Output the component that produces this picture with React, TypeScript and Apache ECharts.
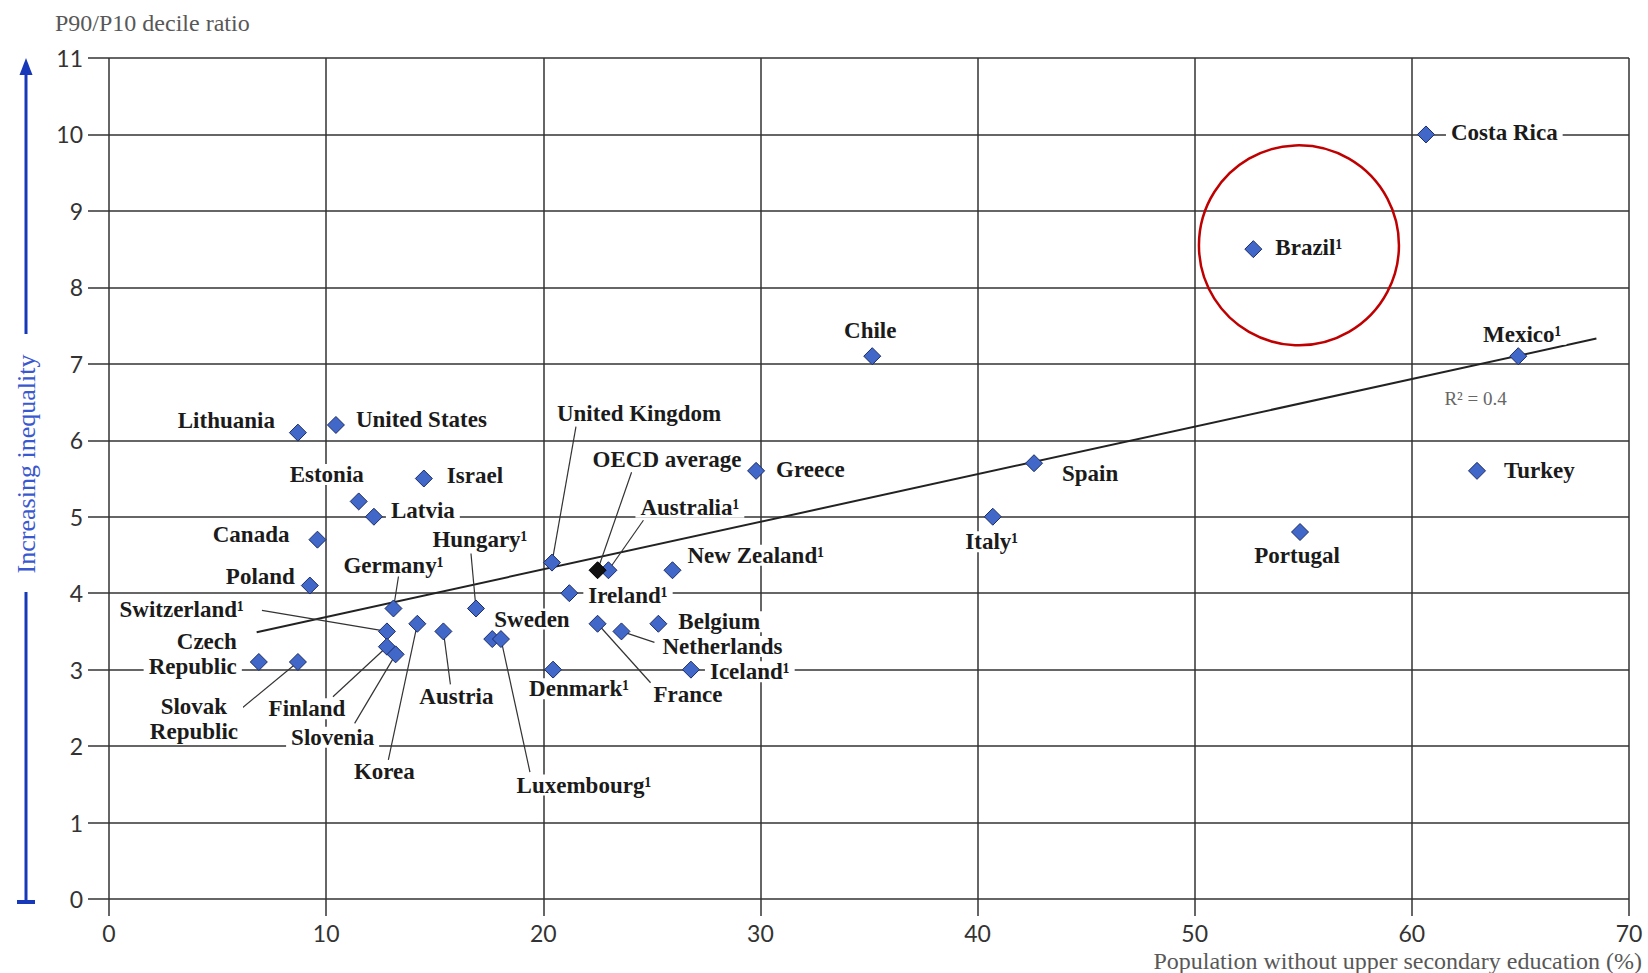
import React, { useEffect, useRef } from "react";
import * as echarts from "echarts";

// ---------- DATA ----------
const countries = [
  "Lithuania", "United States", "Estonia", "Latvia", "Israel", "Canada", "Poland",
  "Germany¹", "Hungary¹", "Switzerland¹", "Czech Republic", "Slovak Republic",
  "Finland", "Slovenia", "Korea", "Austria", "Sweden", "Luxembourg¹",
  "United Kingdom", "Australia¹", "New Zealand¹", "Ireland¹", "Belgium",
  "Netherlands", "France", "Denmark¹", "Iceland¹", "Greece", "Chile", "Italy¹",
  "Spain", "Brazil¹", "Portugal", "Costa Rica", "Mexico¹", "Turkey",
];
// Population without upper secondary education (%)
const withoutUpperSecondary = [
  8.7, 10.45, 11.5, 12.2, 14.5, 9.6, 9.25,
  13.1, 16.9, 12.8, 6.9, 8.7,
  12.8, 13.2, 14.2, 15.4, 17.65, 18.05,
  20.4, 23.0, 25.95, 21.2, 25.3,
  23.6, 22.5, 20.45, 26.8, 29.8, 35.15, 40.7,
  42.6, 52.7, 54.85, 60.65, 64.9, 63.0,
];
// P90/P10 decile ratio
const decileRatio = [
  6.1, 6.2, 5.2, 5.0, 5.5, 4.7, 4.1,
  3.8, 3.8, 3.5, 3.1, 3.1,
  3.3, 3.2, 3.6, 3.5, 3.4, 3.4,
  4.4, 4.3, 4.3, 4.0, 3.6,
  3.5, 3.6, 3.0, 3.0, 5.6, 7.1, 5.0,
  5.7, 8.5, 4.8, 10.0, 7.1, 5.6,
];
const oecdName = "OECD average";
const oecdX = 22.5;
const oecdY = 4.3;

// Linear trend line, R² = 0.4
const trendX = [6.8, 68.5];
const trendY = [3.49, 7.33];
const rSquaredText = "R² = 0.4";

const xTicks = [0, 10, 20, 30, 40, 50, 60, 70];
const yTicks = [0, 1, 2, 3, 4, 5, 6, 7, 8, 9, 10, 11];

// Highlight ring around Brazil (data-space centre)
const highlightCentre = [54.8, 8.55];

// ---------- LABEL PLACEMENT (pixels relative to the marker) ----------
type Lay = { a: "left" | "right" | "center"; dx: number; dy: number; leader?: [number, number]; lh?: number };
const labelLayout: Record<string, Lay> = {
  "Lithuania": { a: "right", dx: -18, dy: -12 },
  "United States": { a: "left", dx: 15, dy: -5 },
  "Estonia": { a: "center", dx: -32, dy: -27 },
  "Latvia": { a: "left", dx: 12, dy: -6 },
  "Israel": { a: "left", dx: 18, dy: -3 },
  "Canada": { a: "right", dx: -23, dy: -5 },
  "Poland": { a: "right", dx: -10, dy: -9 },
  "Germany¹": { a: "center", dx: 0, dy: -43, leader: [5, -32] },
  "Hungary¹": { a: "center", dx: 4, dy: -69, leader: [-5, -55] },
  "Switzerland¹": { a: "right", dx: -138, dy: -22, leader: [-125, -21] },
  "Czech Republic": { a: "right", dx: -17, dy: -8, lh: 25 },
  "Slovak Republic": { a: "center", dx: -104, dy: 57, leader: [-63, 52], lh: 25 },
  "Finland": { a: "center", dx: -80, dy: 62, leader: [-54, 50] },
  "Slovenia": { a: "center", dx: -63, dy: 83, leader: [-41, 69] },
  "Korea": { a: "center", dx: -33, dy: 148, leader: [-29, 136] },
  "Austria": { a: "center", dx: 13, dy: 65, leader: [7, 53] },
  "Sweden": { a: "left", dx: -3, dy: -20 },
  "Luxembourg¹": { a: "center", dx: 83, dy: 146, leader: [29, 133] },
  "United Kingdom": { a: "left", dx: 0, dy: -149, leader: [24, -136] },
  "Australia¹": { a: "left", dx: 27, dy: -63, leader: [35, -50] },
  "New Zealand¹": { a: "left", dx: 10, dy: -15 },
  "Ireland¹": { a: "left", dx: 14, dy: 2 },
  "Belgium": { a: "left", dx: 15, dy: -2 },
  "Netherlands": { a: "left", dx: 36, dy: 15, leader: [33, 11] },
  "France": { a: "left", dx: 51, dy: 71, leader: [53, 59] },
  "Denmark¹": { a: "left", dx: -29, dy: 19 },
  "Iceland¹": { a: "left", dx: 14, dy: 2 },
  "Greece": { a: "left", dx: 15, dy: -1 },
  "Chile": { a: "center", dx: -2, dy: -26 },
  "Italy¹": { a: "center", dx: -1, dy: 25 },
  "Spain": { a: "left", dx: 23, dy: 10 },
  "Brazil¹": { a: "left", dx: 17, dy: -2 },
  "Portugal": { a: "center", dx: -3, dy: 23 },
  "Costa Rica": { a: "left", dx: 20, dy: -2 },
  "Mexico¹": { a: "center", dx: 4, dy: -22 },
  "Turkey": { a: "left", dx: 22, dy: 0 },
};
const oecdLayout: Lay = { a: "left", dx: -10, dy: -111, leader: [34, -98] };

// ---------- STYLES ----------
const SERIF = '"Liberation Serif", "DejaVu Serif", serif';
const SANS = 'Lato, "Open Sans", sans-serif';
const GRID = "#333333";
const MARKER = "#4167c9";
const MARKER_BORDER = "#1c2c66";
const ARROW_BLUE = "#1738b8";
const ARROW_TEXT = "#3a58cf";

export default function App() {
  const ref = useRef<HTMLDivElement>(null);

  useEffect(() => {
    const el = ref.current;
    if (!el) return;
    const chart = echarts.init(el, null, { renderer: "svg" });

    const labelFor = (l: Lay) => {
      const o: any = { align: l.a, offset: [l.dx, l.dy] };
      if (l.lh) o.lineHeight = l.lh;
      return o;
    };

    const data = countries.map((name, i) => ({
      name,
      value: [withoutUpperSecondary[i], decileRatio[i]],
      label: labelFor(labelLayout[name]),
    }));

    const baseLabel = {
      show: true,
      position: "inside",
      verticalAlign: "middle",
      formatter: (p: any) => String(p.name).replace(" Republic", "\nRepublic"),
      fontFamily: SERIF,
      fontWeight: "bold",
      fontSize: 23,
      lineHeight: 21,
      color: "#1b1b1b",
      backgroundColor: "#ffffff",
      padding: [0, 5],
    };

    const option: any = {
      animation: false,
      backgroundColor: "#ffffff",
      grid: { left: 109, right: 19, top: 58, bottom: 74, containLabel: false },
      xAxis: {
        type: "value",
        min: xTicks[0],
        max: xTicks[xTicks.length - 1],
        interval: xTicks[1] - xTicks[0],
        axisLine: { show: false },
        axisTick: { show: true, length: 17, lineStyle: { color: GRID, width: 1.5 } },
        axisLabel: { fontFamily: SANS, fontSize: 23, color: "#333", margin: 22 },
        splitLine: { show: true, lineStyle: { color: GRID, width: 1.5 } },
      },
      yAxis: {
        type: "value",
        min: yTicks[0],
        max: yTicks[yTicks.length - 1],
        interval: yTicks[1] - yTicks[0],
        axisLine: { show: false },
        axisTick: { show: true, length: 21, lineStyle: { color: GRID, width: 1.5 } },
        axisLabel: { fontFamily: SANS, fontSize: 23, color: "#333", margin: 26 },
        splitLine: { show: true, lineStyle: { color: GRID, width: 1.5 } },
      },
      series: [
        {
          type: "line",
          z: 2,
          data: trendX.map((x, i) => [x, trendY[i]]),
          symbol: "none",
          lineStyle: { color: "#222", width: 2 },
          silent: true,
        },
        {
          type: "scatter",
          z: 4,
          symbol: "diamond",
          symbolSize: 17,
          itemStyle: { color: MARKER, borderColor: MARKER_BORDER, borderWidth: 1, opacity: 1 },
          label: baseLabel,
          data,
        },
        {
          type: "scatter",
          z: 4,
          symbol: "diamond",
          symbolSize: 17,
          itemStyle: { color: "#111", borderColor: "#000", borderWidth: 1, opacity: 1 },
          label: { ...baseLabel, ...labelFor(oecdLayout) },
          data: [{ name: oecdName, value: [oecdX, oecdY] }],
        },
      ],
    };
    chart.setOption(option);

    const toPx = (x: number, y: number) =>
      chart.convertToPixel({ gridIndex: 0 }, [x, y]) as unknown as number[];

    const graphics: any[] = [];
    const leader = (x: number, y: number, l: Lay) => {
      if (!l.leader) return;
      const [px, py] = toPx(x, y);
      graphics.push({
        type: "line",
        z: 3,
        silent: true,
        shape: { x1: px, y1: py, x2: px + l.leader[0], y2: py + l.leader[1] },
        style: { stroke: "#333", lineWidth: 1.2 },
      });
    };
    countries.forEach((name, i) => leader(withoutUpperSecondary[i], decileRatio[i], labelLayout[name]));
    leader(oecdX, oecdY, oecdLayout);

    // Increasing-inequality arrow at the left
    const [, yTop] = toPx(0, yTicks[yTicks.length - 1]);
    const [, yBot] = toPx(0, yTicks[0]);
    const ax = 26;
    graphics.push(
      {
        type: "polygon",
        silent: true,
        shape: { points: [[ax, yTop], [ax - 6.5, yTop + 17], [ax + 6.5, yTop + 17]] },
        style: { fill: ARROW_BLUE },
      },
      {
        type: "line",
        silent: true,
        shape: { x1: ax, y1: yTop + 14, x2: ax, y2: 334 },
        style: { stroke: ARROW_BLUE, lineWidth: 3 },
      },
      {
        type: "line",
        silent: true,
        shape: { x1: ax, y1: 592, x2: ax, y2: yBot + 2 },
        style: { stroke: ARROW_BLUE, lineWidth: 3 },
      },
      {
        type: "rect",
        silent: true,
        shape: { x: ax - 9, y: yBot + 1, width: 18, height: 4 },
        style: { fill: ARROW_BLUE },
      },
      {
        type: "text",
        silent: true,
        x: ax,
        y: 464,
        rotation: Math.PI / 2,
        style: {
          text: "Increasing inequality",
          fontFamily: SERIF,
          fontSize: 26,
          fill: ARROW_TEXT,
          align: "center",
          verticalAlign: "middle",
        },
      },
      {
        type: "text",
        silent: true,
        x: 55,
        y: 23,
        style: {
          text: "P90/P10 decile ratio",
          fontFamily: SERIF,
          fontSize: 24,
          fill: "#585858",
          align: "left",
          verticalAlign: "middle",
        },
      },
      {
        type: "text",
        silent: true,
        x: 1642,
        y: 961,
        style: {
          text: "Population without upper secondary education (%)",
          fontFamily: SERIF,
          fontSize: 24,
          fill: "#585858",
          align: "right",
          verticalAlign: "middle",
        },
      }
    );

    // R² annotation near the trend line's right end
    const [rx, ry] = toPx(61.5, 6.55);
    graphics.push({
      type: "text",
      silent: true,
      x: rx,
      y: ry,
      style: { text: rSquaredText, fontFamily: SERIF, fontSize: 19, fill: "#666", align: "left", verticalAlign: "middle" },
    });

    // Red highlight ring around Brazil
    const [cx, cy] = toPx(highlightCentre[0], highlightCentre[1]);
    graphics.push({
      type: "circle",
      silent: true,
      z: 10,
      shape: { cx, cy, r: 100 },
      style: { fill: "transparent", stroke: "#c00000", lineWidth: 2.5 },
    });

    chart.setOption({ graphic: graphics });

    return () => chart.dispose();
  }, []);

  return (
    <div
      ref={ref}
      style={{ position: "absolute", left: 0, top: 0, width: 1648, height: 973, background: "#fff" }}
    />
  );
}
